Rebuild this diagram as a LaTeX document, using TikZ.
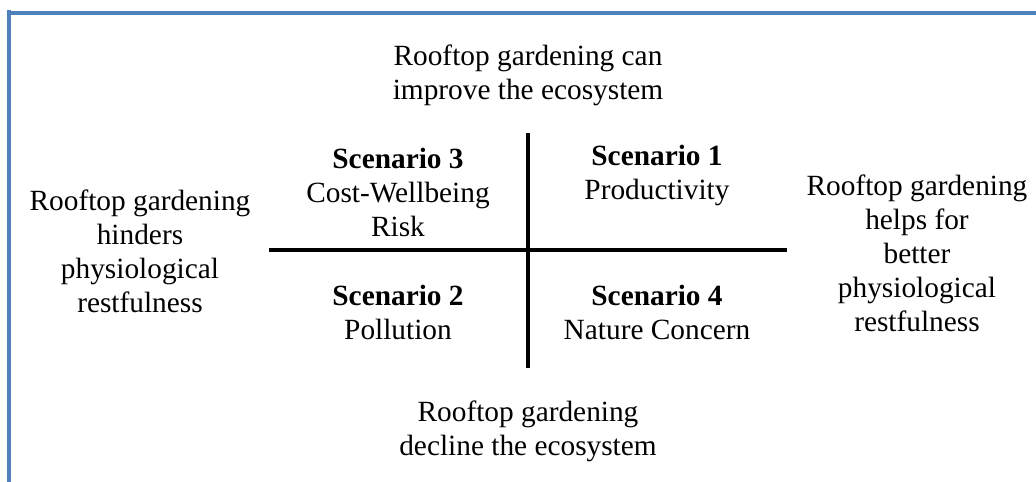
\documentclass[tikz,border=0pt]{standalone}
\usepackage{fontspec}
\setmainfont{Liberation Serif}
\definecolor{frameblue}{RGB}{79,129,189}
\begin{document}
\begin{tikzpicture}[x=0.75pt,y=-0.75pt,
  lbl/.style={align=center,inner sep=0pt,font=\fontsize{22}{25.5}\selectfont},
  axis/.style={line width=2.7pt,black},
  framebar/.style={line width=3.3pt,frameblue}]
\useasboundingbox (0,0) rectangle (1036,482);
% frame bars along the left and top
\coordinate (fl1) at (9,10);
\coordinate (fl2) at (9,482);
\coordinate (ft1) at (7,13);
\coordinate (ft2) at (1036,13);
\draw[framebar] (fl1) -- (fl2);
\draw[framebar] (ft1) -- (ft2);
% quadrant axes
\coordinate (hl) at (269,250);
\coordinate (hr) at (787,250);
\coordinate (vt) at (528,133);
\coordinate (vb) at (528,368);
\draw[axis] (hl) -- (hr);
\draw[axis] (vt) -- (vb);
% axis captions
\node[lbl] (top) at (528,75) {Rooftop gardening can\\improve the ecosystem};
\node[lbl] (bottom) at (528,431) {Rooftop gardening\\decline the ecosystem};
\node[lbl] (left) at (140,251) {Rooftop gardening\\hinders\\physiological\\restfulness};
\node[lbl] (right) at (917,253) {Rooftop gardening\\helps for\\better\\physiological\\restfulness};
% quadrants
\node[lbl] (s3) at (398,192) {\textbf{Scenario 3}\\Cost-Wellbeing\\Risk};
\node[lbl] (s1) at (657,175) {\textbf{Scenario 1}\\Productivity};
\node[lbl] (s2) at (398,312) {\textbf{Scenario 2}\\Pollution};
\node[lbl] (s4) at (657,312) {\textbf{Scenario 4}\\Nature Concern};
\end{tikzpicture}
\end{document}
